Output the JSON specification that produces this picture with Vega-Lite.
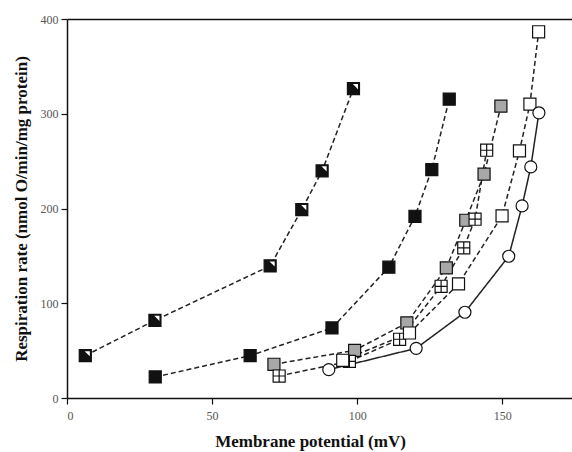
{
  "$schema": "https://vega.github.io/schema/vega-lite/v6.json",
  "autosize": "none",
  "width": 505,
  "height": 379,
  "padding": {"left": 67, "top": 19, "right": 0, "bottom": 54},
  "background": "white",
  "config": {
    "view": {"stroke": null},
    "axis": {
      "grid": false,
      "domainColor": "#111",
      "domainWidth": 1.5,
      "tickColor": "#111",
      "tickWidth": 1.2,
      "tickSize": 6,
      "labelFont": "Liberation Serif",
      "labelFontSize": 12,
      "labelColor": "#555",
      "titleFont": "Liberation Serif",
      "titleFontSize": 17,
      "titleFontWeight": "bold",
      "titleColor": "#111"
    }
  },
  "data": {
    "values": [
      {"s": "A", "x": 6.3, "y": 44.7},
      {"s": "A", "x": 30.3, "y": 82},
      {"s": "A", "x": 70.0, "y": 139.4},
      {"s": "A", "x": 80.9, "y": 198.9},
      {"s": "A", "x": 87.9, "y": 239.7},
      {"s": "A", "x": 98.7, "y": 326.6},
      {"s": "B", "x": 30.4, "y": 22.2},
      {"s": "B", "x": 63.1, "y": 44.7},
      {"s": "B", "x": 91.3, "y": 73.9},
      {"s": "B", "x": 110.9, "y": 138},
      {"s": "B", "x": 119.9, "y": 191.8},
      {"s": "B", "x": 125.7, "y": 241.1},
      {"s": "B", "x": 131.7, "y": 315.4},
      {"s": "C", "x": 71.3, "y": 35.6},
      {"s": "C", "x": 99.1, "y": 50.3},
      {"s": "C", "x": 117.1, "y": 79.2},
      {"s": "C", "x": 130.7, "y": 137.3},
      {"s": "C", "x": 137.4, "y": 187.6},
      {"s": "C", "x": 143.7, "y": 236.2},
      {"s": "C", "x": 149.5, "y": 308},
      {"s": "D", "x": 73.1, "y": 23.2},
      {"s": "D", "x": 97.3, "y": 38.7},
      {"s": "D", "x": 114.6, "y": 62},
      {"s": "D", "x": 128.9, "y": 117.9},
      {"s": "D", "x": 136.7, "y": 158.4},
      {"s": "D", "x": 140.6, "y": 188.7},
      {"s": "D", "x": 144.6, "y": 261.5},
      {"s": "E", "x": 95.0, "y": 39.8},
      {"s": "E", "x": 118.0, "y": 68.6},
      {"s": "E", "x": 134.9, "y": 120.4},
      {"s": "E", "x": 149.9, "y": 192.2},
      {"s": "E", "x": 155.9, "y": 260.8},
      {"s": "E", "x": 159.5, "y": 310.1},
      {"s": "E", "x": 162.5, "y": 386.5},
      {"s": "F", "x": 90.2, "y": 29.9},
      {"s": "F", "x": 120.3, "y": 52.4},
      {"s": "F", "x": 137.1, "y": 90.5},
      {"s": "F", "x": 152.2, "y": 149.6},
      {"s": "F", "x": 156.8, "y": 202.7},
      {"s": "F", "x": 159.8, "y": 243.9},
      {"s": "F", "x": 162.6, "y": 301}
    ]
  },
  "layer": [
    {
      "mark": {"type": "line", "color": "#222", "strokeWidth": 1.5},
      "encoding": {
        "x": {"field": "x", "type": "quantitative", "scale": {"domain": [0, 174], "nice": false, "zero": false},
              "axis": {"values": [0, 50, 100, 150], "title": "Membrane potential (mV)", "labelPadding": 6, "titlePadding": 12, "titleX": 243}},
        "y": {"field": "y", "type": "quantitative", "scale": {"domain": [0, 400], "nice": false},
              "axis": {"values": [0, 100, 200, 300, 400], "title": "Respiration rate (nmol O/min/mg protein)", "labelPadding": 3, "titlePadding": 10}},
        "detail": {"field": "s"},
        "strokeDash": {"field": "s", "type": "nominal", "legend": null,
                       "scale": {"domain": ["A", "B", "C", "D", "E", "F"], "range": [[5, 3], [5, 3], [5, 3], [5, 3], [5, 3], [1, 0]]}}
      }
    },
    {
      "mark": {"type": "point", "filled": true, "stroke": "#111", "strokeWidth": 1.2, "size": 145, "opacity": 1},
      "encoding": {
        "x": {"field": "x", "type": "quantitative",
              "axis": {"orient": "top", "labels": false, "ticks": false, "title": null}},
        "y": {"field": "y", "type": "quantitative"},
        "shape": {"field": "s", "type": "nominal", "legend": null,
                  "scale": {"domain": ["A", "B", "C", "D", "E", "F"],
                            "range": ["square", "square", "square", "M-1,-1H1V1H-1Z M0,-1V1 M-1,0H1", "square", "circle"]}},
        "fill": {"field": "s", "type": "nominal", "legend": null,
                 "scale": {"domain": ["A", "B", "C", "D", "E", "F"],
                           "range": ["#111", "#111", "#a8a8a8", "#ffffff", "#ffffff", "#ffffff"]}}
      }
    },
    {
      "transform": [{"filter": "datum.s === 'A'"}],
      "mark": {"type": "point", "filled": true, "fill": "white", "strokeWidth": 0, "size": 145, "opacity": 1,
               "shape": "M-0.1,-0.75L0.75,-0.75L0.75,0.1Z"},
      "encoding": {
        "x": {"field": "x", "type": "quantitative", "axis": null},
        "y": {"field": "y", "type": "quantitative"}
      }
    }
  ],
  "resolve": {"axis": {"x": "independent"}}
}
